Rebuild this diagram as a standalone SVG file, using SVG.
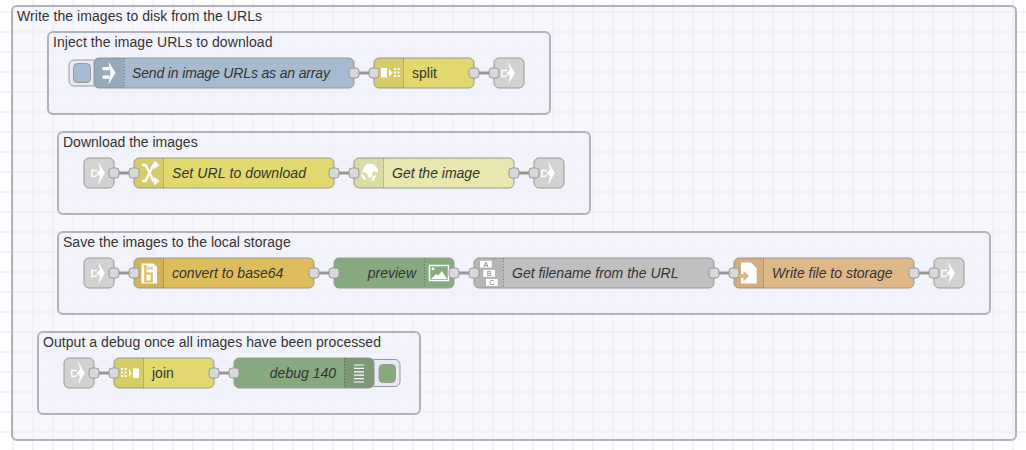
<svg xmlns="http://www.w3.org/2000/svg" width="1026" height="450" viewBox="0 0 1026 450">
<style>
text{font-family:"Liberation Sans",Arial,sans-serif;font-size:14px;fill:#333}
.i{font-style:italic}
.g{fill:#f0f1fa;fill-opacity:.55;stroke:#b2b2bc;stroke-width:2}
.n{stroke:#999;stroke-width:1}
.s{fill:#000;fill-opacity:.05}
.s2{fill:#000;fill-opacity:.09}
.d{stroke:#000;stroke-opacity:.15;stroke-width:1;fill:none}
.dd{stroke:#000;stroke-opacity:.3;stroke-width:1;stroke-dasharray:1 2;fill:none}
.p{fill:#d9d9d9;stroke:#999;stroke-width:1}
.w{stroke:#999;stroke-width:3;fill:none}
.ic{fill:#fff}
.abc{font-size:7px;fill:#777;text-anchor:middle}
.b64{font-size:6px;fill:#c9a540}
</style>
<defs>
<pattern id="grid" width="20" height="20" patternUnits="userSpaceOnUse" x="3" y="2">
<path d="M0 10H20M10 0V20" stroke="#eeeef6" stroke-width="1.5" fill="none"/>
</pattern>
<g id="link"><rect class="n" x="0" y="0" width="30" height="30" rx="5" fill="#d2d2d2"/>
<path class="ic" d="M14 3.500 20.800 15 14 27 16 18.500 12.500 15 16 11.500Z"/><path d="M13 12.500H7.800V18.500H9.500C11 18.500 12.500 17.500 13 17" fill="none" stroke="#fff" stroke-width="1.500"/></g>
</defs>
<rect width="1026" height="450" fill="#fff"/>
<rect width="1026" height="450" fill="url(#grid)"/>
<g id="group-outer"><rect class="g" x="12" y="6" width="1004" height="434" rx="5"/><text x="17" y="21" textLength="245">Write the images to disk from the URLs</text></g>
<g id="group-inject"><rect class="g" x="48" y="32" width="502" height="82" rx="5"/><text x="53" y="47" textLength="219.500">Inject the image URLs to download</text></g>
<g id="group-download"><rect class="g" x="58" y="132" width="532" height="82" rx="5"/><text x="63" y="147">Download the images</text></g>
<g id="group-save"><rect class="g" x="58" y="232" width="932" height="82" rx="5"/><text x="63" y="247" textLength="227.700">Save the images to the local storage</text></g>
<g id="group-output"><rect class="g" x="38" y="332" width="382" height="82" rx="5"/><text x="43" y="347" textLength="338">Output a debug once all images have been processed</text></g>
<g id="connectors">
<path class="w" d="M354 73H374M474 73H494"/>
<path class="w" d="M114 173H134M334 173H354M514 173H534"/>
<path class="w" d="M114 273H134M314 273H334M454 273H474M714 273H734M914 273H934"/>
<path class="w" d="M94 373H114M214 373H234"/>
</g>
<g id="node-send">
<rect x="69" y="60" width="29" height="26" rx="5" fill="#e8e9f3" stroke="#999"/><rect x="73.500" y="63.500" width="17" height="19" rx="4" fill="#a6bbcf" stroke="#999"/>
<rect class="n" x="94" y="58" width="260" height="30" rx="5" fill="#a6bbcf"/><path class="s2" d="M99 58h25v30h-25a5 5 0 0 1-5-5v-20a5 5 0 0 1 5-5z"/><path class="dd" d="M124.500 58V88"/>
<path class="ic" d="M102.500 67h7v3.300h-7zM102.500 75.500h7v3.300h-7zM108.500 61.500 115.500 73 108.500 84.500 110.500 73z"/>
<text class="i" x="132" y="78" textLength="198">Send in image URLs as an array</text></g>
<g id="node-split">
<rect class="n" x="374" y="58" width="100" height="30" rx="5" fill="#e2d96e"/><path class="s" d="M379 58h25v30h-25a5 5 0 0 1-5-5v-20a5 5 0 0 1 5-5z"/><path class="d" d="M403.500 58V88"/>
<path class="ic" d="M381 68h6v9.500h-6zM389 69l3.500 4-3.500 4zM394 68h2v2h-2zM397.500 68h2v2h-2zM394 71.500h2v2h-2zM397.500 71.500h2v2h-2zM394 75h2v2h-2zM397.500 75h2v2h-2z"/>
<text x="412" y="78">split</text></g>
<use id="node-linkout-1" href="#link" x="494" y="58"/>
<use id="node-linkin-2" href="#link" x="84" y="158"/>
<g id="node-seturl">
<rect class="n" x="134" y="158" width="200" height="30" rx="5" fill="#e2d96e"/><path class="s" d="M139 158h25v30h-25a5 5 0 0 1-5-5v-20a5 5 0 0 1 5-5z"/><path class="d" d="M163.500 158V188"/>
<path d="M142 165h3.500l8 16h2.500M142 181h3.500l8-16h2.500" fill="none" stroke="#fff" stroke-width="2.500"/><path class="ic" d="M154 160.500l5.500 4.500-5.500 4.500zM154 176.500l5.500 4.500-5.500 4.500z"/>
<text class="i" x="172" y="178" textLength="134">Set URL to download</text></g>
<g id="node-http">
<rect class="n" x="354" y="158" width="160" height="30" rx="5" fill="#e7e7ae"/><path class="s" d="M359 158h25v30h-25a5 5 0 0 1-5-5v-20a5 5 0 0 1 5-5z"/><path class="d" d="M383.500 158V188"/>
<path class="ic" d="M365 165.500C369 162.500 375 163 378 169.500L377.500 173 374 171 371.500 174 373 176 369 178 367 173.500 362 171.500ZM372.500 176.500 376.500 175 373.500 181 371.500 180.500ZM361 173 364.500 176 366 180.500C363 179.500 361.500 176.500 361 173Z"/>
<text class="i" x="392" y="178">Get the image</text></g>
<use id="node-linkout-2" href="#link" x="534" y="158"/>
<use id="node-linkin-3" href="#link" x="84" y="258"/>
<g id="node-base64">
<rect class="n" x="134" y="258" width="180" height="30" rx="5" fill="#debd5c"/><path class="s" d="M139 258h25v30h-25a5 5 0 0 1-5-5v-20a5 5 0 0 1 5-5z"/><path class="d" d="M163.500 258V288"/>
<path class="ic" d="M141.500 263.500h12l3.500 3.500v16.500h-15.500z"/><path d="M145.300 265v16.500h6.500v-8h-6.500" fill="none" stroke="#debd5c" stroke-width="2.200"/>
<text class="b64" x="146.500" y="270">64</text>
<text class="i" x="172" y="278">convert to base64</text></g>
<g id="node-preview">
<rect class="n" x="334" y="258" width="120" height="30" rx="5" fill="#87a980"/><path class="dd" d="M424.500 258V288"/>
<rect x="429.500" y="265.500" width="19" height="15" fill="none" stroke="#fff" stroke-width="1.500"/><path class="ic" d="M431 279l5-5 2 1.500 4-4.500 5 8z"/><circle class="ic" cx="433" cy="268.800" r="1.500"/>
<text class="i" x="416" y="278" text-anchor="end">preview</text></g>
<g id="node-filename">
<rect class="n" x="474" y="258" width="240" height="30" rx="5" fill="#c0c0c0"/><path class="s" d="M479 258h25v30h-25a5 5 0 0 1-5-5v-20a5 5 0 0 1 5-5z"/><path class="dd" d="M503.500 258V288"/>
<path class="ic" d="M480 260.700h11.700v6.700h-11.700zM483.300 270h11.700v6.700h-11.700zM486 279h11.700v6.700h-11.700z"/>
<text class="abc" x="485.800" y="266.700">A</text><text class="abc" x="489.100" y="276">B</text><text class="abc" x="491.800" y="285">C</text>
<text class="i" x="512" y="278">Get filename from the URL</text></g>
<g id="node-write">
<rect class="n" x="734" y="258" width="180" height="30" rx="5" fill="#deb887"/><path class="s" d="M739 258h25v30h-25a5 5 0 0 1-5-5v-20a5 5 0 0 1 5-5z"/><path class="d" d="M763.500 258V288"/>
<path class="ic" d="M741 262.500h10l5.700 5.700v15.300h-15.700z"/><path d="M739 274h4.500v-3.500l5.500 5.500-5.500 5.500v-3.500h-4.500z" fill="#deb887"/>
<text class="i" x="772" y="278">Write file to storage</text></g>
<use id="node-linkout-3" href="#link" x="934" y="258"/>
<use id="node-linkin-4" href="#link" x="64" y="358"/>
<g id="node-join">
<rect class="n" x="114" y="358" width="100" height="30" rx="5" fill="#e2d96e"/><path class="s" d="M119 358h25v30h-25a5 5 0 0 1-5-5v-20a5 5 0 0 1 5-5z"/><path class="d" d="M143.500 358V388"/>
<path class="ic" d="M133 368.500h6v9.500h-6zM129 369l2.500 4-2.500 4zM121 368h2v2h-2zM124.500 368h2v2h-2zM121 371.500h2v2h-2zM124.500 371.500h2v2h-2zM121 375h2v2h-2zM124.500 375h2v2h-2z"/>
<text x="152" y="378">join</text></g>
<g id="node-debug">
<rect x="370" y="359.500" width="30" height="27" rx="5" fill="#e8e9f3" stroke="#999"/><rect x="379" y="364.500" width="16.500" height="18" rx="4" fill="#87a980" stroke="#999"/>
<rect class="n" x="234" y="358" width="140" height="30" rx="5" fill="#87a980"/><path class="s2" d="M344 358h25a5 5 0 0 1 5 5v20a5 5 0 0 1-5 5h-25z"/><path class="dd" d="M344.500 358V388"/>
<path d="M354 365h10M354 368.400h10M354 371.800h10M354 375.200h10M354 378.600h10M354 382h10" stroke="#fff" stroke-width="1.200"/>
<text class="i" x="336" y="378" text-anchor="end">debug 140</text></g>
<g id="ports">
<rect class="p" x="349" y="68" width="10" height="10" rx="3"/><rect class="p" x="369" y="68" width="10" height="10" rx="3"/><rect class="p" x="469" y="68" width="10" height="10" rx="3"/><rect class="p" x="489" y="68" width="10" height="10" rx="3"/>
<rect class="p" x="109" y="168" width="10" height="10" rx="3"/><rect class="p" x="129" y="168" width="10" height="10" rx="3"/><rect class="p" x="329" y="168" width="10" height="10" rx="3"/><rect class="p" x="349" y="168" width="10" height="10" rx="3"/><rect class="p" x="509" y="168" width="10" height="10" rx="3"/><rect class="p" x="529" y="168" width="10" height="10" rx="3"/>
<rect class="p" x="109" y="268" width="10" height="10" rx="3"/><rect class="p" x="129" y="268" width="10" height="10" rx="3"/><rect class="p" x="309" y="268" width="10" height="10" rx="3"/><rect class="p" x="329" y="268" width="10" height="10" rx="3"/><rect class="p" x="449" y="268" width="10" height="10" rx="3"/><rect class="p" x="469" y="268" width="10" height="10" rx="3"/><rect class="p" x="709" y="268" width="10" height="10" rx="3"/><rect class="p" x="729" y="268" width="10" height="10" rx="3"/><rect class="p" x="909" y="268" width="10" height="10" rx="3"/><rect class="p" x="929" y="268" width="10" height="10" rx="3"/>
<rect class="p" x="89" y="368" width="10" height="10" rx="3"/><rect class="p" x="109" y="368" width="10" height="10" rx="3"/><rect class="p" x="209" y="368" width="10" height="10" rx="3"/><rect class="p" x="229" y="368" width="10" height="10" rx="3"/>
</g>
</svg>
